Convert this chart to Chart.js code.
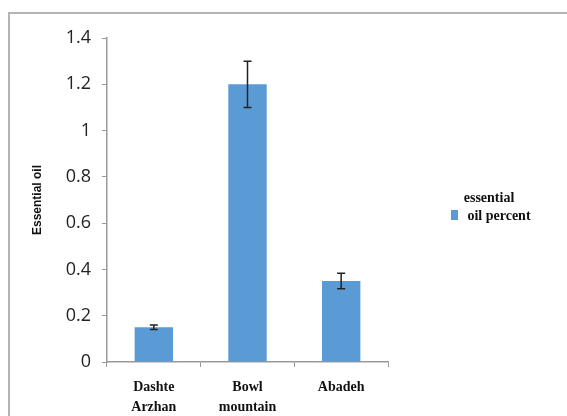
<!DOCTYPE html>
<html>
<head>
<meta charset="utf-8">
<script src="https://cdn.jsdelivr.net/npm/chart.js@4.4.1/dist/chart.umd.min.js"></script>
<style>
  body { margin: 0; background: #fff; }
  #wrap { position: relative; width: 567px; height: 416px; overflow: hidden; }
  #frame { position: absolute; left: 8px; top: 12px; width: 580px; height: 420px; border: 2px solid #b4b4b4; box-sizing: border-box; }
  canvas { position: absolute; left: 0; top: 0; }
</style>
</head>
<body>
<div id="wrap">
  <div id="frame"></div>
  <canvas id="chart" width="567" height="416"></canvas>
</div>
<script>
// data
var sites = [["Dashte", "Arzhan"], ["Bowl", "mountain"], ["Abadeh"]];
var oilPercent = [0.15, 1.2, 0.35];
var oilError = [0.01, 0.1, 0.033];
var seriesName = ["essential", "oil percent"];
var yTitle = "Essential oil";

var blue = "#5b9bd5";

// error bars drawn through the scales
var errorBars = {
  id: "errorBars",
  afterDatasetsDraw: function(chart) {
    var ctx = chart.ctx, x = chart.scales.x, y = chart.scales.y;
    ctx.save();
    ctx.strokeStyle = "#222";
    ctx.lineWidth = 1.5;
    oilPercent.forEach(function(v, i) {
      var px = x.getPixelForValue(i);
      var top = y.getPixelForValue(v + oilError[i]);
      var bot = y.getPixelForValue(v - oilError[i]);
      ctx.beginPath();
      ctx.moveTo(px, top); ctx.lineTo(px, bot);
      ctx.moveTo(px - 4, top); ctx.lineTo(px + 4, top);
      ctx.moveTo(px - 4, bot); ctx.lineTo(px + 4, bot);
      ctx.stroke();
    });
    ctx.restore();
  }
};

// legend on the right with a two-line label
var sideLegend = {
  id: "sideLegend",
  afterDraw: function(chart) {
    var ctx = chart.ctx;
    ctx.save();
    ctx.fillStyle = blue;
    ctx.fillRect(451, 210, 7, 10);
    ctx.fillStyle = "#111";
    ctx.font = "bold 14px 'Liberation Serif'";
    ctx.textAlign = "center";
    ctx.textBaseline = "middle";
    ctx.fillText(seriesName[0], 489, 198);
    ctx.fillText(seriesName[1], 499, 216);
    ctx.restore();
  }
};

new Chart(document.getElementById("chart"), {
  type: "bar",
  data: {
    labels: sites,
    datasets: [{
      label: seriesName.join(" "),
      data: oilPercent,
      backgroundColor: blue,
      categoryPercentage: 1,
      barPercentage: 0.41
    }]
  },
  options: {
    responsive: false,
    animation: false,
    layout: { padding: { left: 0, right: 179, top: 38, bottom: 0 } },
    plugins: { legend: { display: false }, tooltip: { enabled: false } },
    scales: {
      x: {
        grid: { drawOnChartArea: false, drawTicks: true, tickLength: 5, color: "#999" },
        border: { color: "#999", width: 1.5 },
        ticks: {
          color: "#111",
          font: { family: "'Liberation Serif'", size: 14, weight: "bold", lineHeight: 1.45 },
          maxRotation: 0, padding: 10
        },
        afterFit: function(s) { s.height = 54; }
      },
      y: {
        min: 0, max: 1.4,
        grid: { drawOnChartArea: false, drawTicks: true, tickLength: 5, color: "#999" },
        border: { color: "#999", width: 1.5 },
        ticks: {
          stepSize: 0.2,
          color: "#222",
          padding: 11,
          font: { family: "'Open Sans'", size: 18 },
          callback: function(v) { return Math.round(v * 10) / 10; }
        },
        title: {
          display: true, text: yTitle, color: "#111",
          font: { family: "'Liberation Sans'", size: 12, weight: "bold" },
          padding: { top: 30, bottom: 0 }
        },
        afterFit: function(s) { s.width = 107; }
      }
    }
  },
  plugins: [errorBars, sideLegend]
});
</script>
</body>
</html>
